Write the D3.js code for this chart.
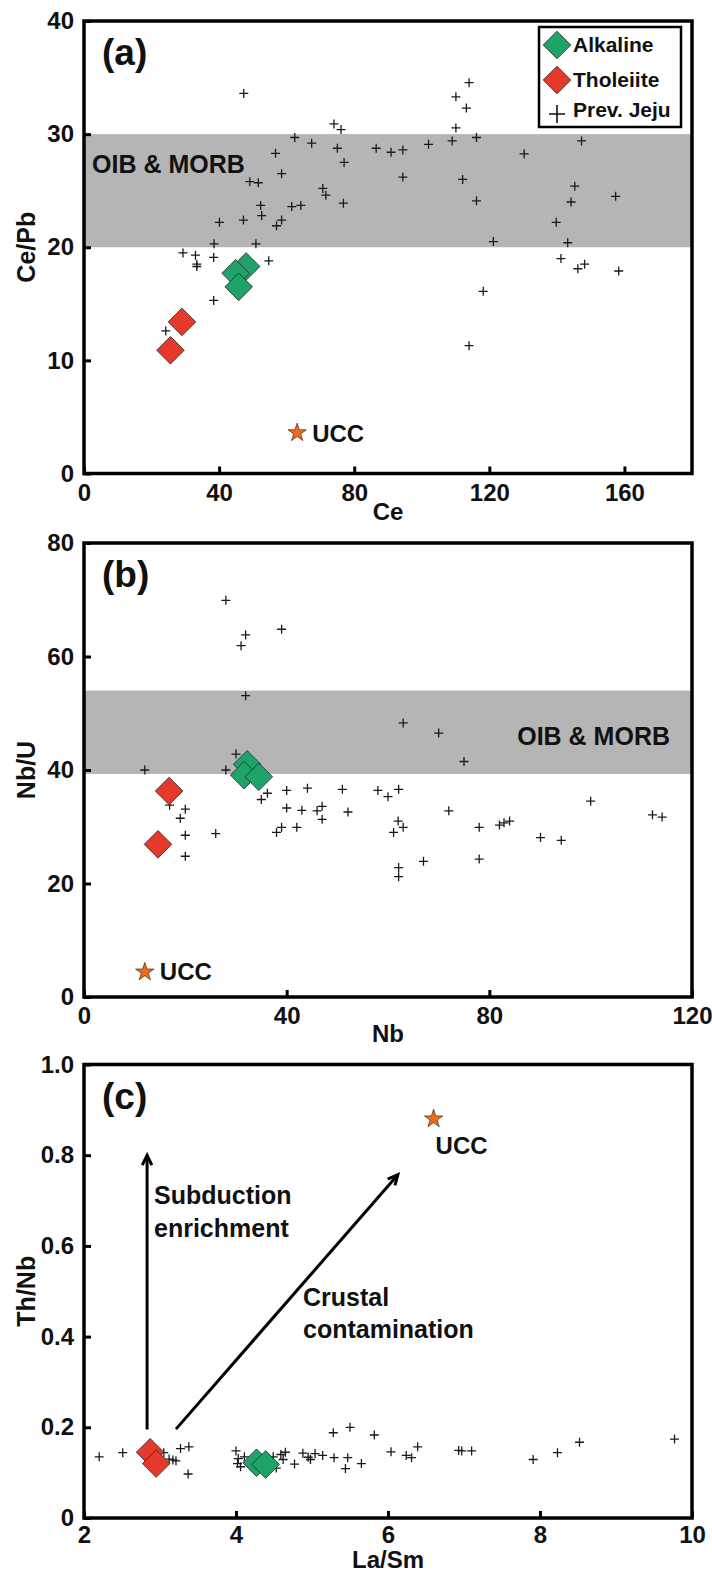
<!DOCTYPE html>
<html>
<head>
<meta charset="utf-8">
<script src="https://cdn.jsdelivr.net/npm/d3@7"></script>
<style>
  html, body { margin: 0; padding: 0; background: #fff; }
  svg { display: block; }
  text { font-family: "Liberation Sans", Arial, sans-serif; font-weight: bold; fill: #111; }
</style>
</head>
<body>
<svg id="chart" width="712" height="1573"></svg>
<script>
// ---------------- DATA ----------------
// Panel (a): Ce vs Ce/Pb
const prevCe   = [47.3,114,110.1,113.2,110.1,74.0,76.1,62.4,67.4,75.0,86.5,90.9,94.4,102.0,109.0,116.2,147.3,56.7,130.3,77.0,58.5,49.1,51.6,94.4,112.1,145.3,157.4,70.7,71.6,52.3,61.5,64.2,76.8,116.2,144.2,52.6,58.5,57.0,47.2,40.1,139.8,38.5,50.9,121.2,143.2,29.3,33.0,33.4,33.4,38.4,54.7,38.4,24.2,141.2,146.2,148.2,158.3,118.2,114.0];
const prevCePb = [33.6,34.55,33.3,32.3,30.55,30.9,30.4,29.7,29.2,28.75,28.75,28.4,28.6,29.1,29.4,29.7,29.4,28.3,28.25,27.5,26.5,25.8,25.7,26.2,26.0,25.4,24.5,25.2,24.6,23.7,23.6,23.7,23.9,24.1,24.0,22.8,22.4,21.9,22.4,22.2,22.2,20.3,20.3,20.5,20.4,19.5,19.3,18.5,18.3,19.1,18.8,15.3,12.6,19.0,18.1,18.5,17.9,16.1,11.3];
const alkCe    = [48.0, 44.9, 45.8];
const alkCePb  = [18.3, 17.7, 16.5];
const thoCe    = [29.0, 25.6];
const thoCePb  = [13.4, 10.9];
const uccCe = 63.1, uccCePb = 3.6;
const bandCePb = [20, 30];
const ticksCe = [0, 40, 80, 120, 160];
const ticksCePb = [0, 10, 20, 30, 40];

// Panel (b): Nb vs Nb/U
const prevNb  = [28.0,39.0,31.9,31.0,31.9,63.0,70.0,75.0,30.0,12.0,28.0,16.9,20.0,19.0,20.0,20.0,26.0,35.0,36.2,38.0,39.0,40.0,40.0,42.0,43.0,44.1,46.0,47.0,47.0,51.0,52.1,58.0,60.0,62.1,62.0,63.0,61.1,62.1,62.1,67.0,72.0,78.0,78.0,82.0,82.9,84.0,90.1,94.2,100.0,112.2,114.1];
const prevNbU = [69.9,64.8,63.8,61.9,53.1,48.3,46.5,41.5,42.8,40.0,40.0,33.8,33.1,31.5,28.5,24.8,28.8,34.8,35.9,29.0,29.9,36.4,33.3,29.9,32.9,36.8,32.8,33.6,31.3,36.6,32.6,36.4,35.3,36.6,31.0,29.9,29.0,22.8,21.2,23.9,32.8,29.9,24.3,30.3,30.7,31.0,28.1,27.6,34.5,32.1,31.7];
const alkNb   = [32.2, 31.6, 34.5];
const alkNbU  = [41.0, 39.1, 38.8];
const thoNb   = [16.8, 14.6];
const thoNbU  = [36.3, 26.9];
const uccNb = 12, uccNbU = 4.4;
const bandNbU = [39.3, 54];
const ticksNb = [0, 40, 80, 120];
const ticksNbU = [0, 20, 40, 60, 80];

// Panel (c): La/Sm vs Th/Nb
const prevLaSm = [2.20,2.51,3.05,3.27,3.38,3.37,3.12,3.17,3.21,4.00,4.03,4.02,4.06,4.11,4.20,4.49,4.53,4.59,4.65,4.62,4.77,4.88,4.95,4.98,5.04,5.14,5.28,5.29,5.44,5.47,5.50,5.65,5.82,6.04,6.24,6.31,6.39,6.93,6.97,7.10,7.91,8.23,8.52,9.77];
const prevThNb = [0.135,0.144,0.144,0.153,0.157,0.097,0.130,0.128,0.126,0.148,0.131,0.120,0.113,0.135,0.128,0.135,0.110,0.140,0.145,0.129,0.119,0.143,0.134,0.129,0.142,0.138,0.188,0.133,0.109,0.133,0.200,0.120,0.183,0.146,0.138,0.133,0.157,0.149,0.148,0.148,0.129,0.144,0.167,0.174];
const alkLaSm = [4.27, 4.39];
const alkThNb = [0.122, 0.118];
const thoLaSm = [2.87, 2.95];
const thoThNb = [0.145, 0.120];
const uccLaSm = 6.6, uccThNb = 0.88;
const arrowSubduction = [[2.83, 0.195], [2.83, 0.80]];
const arrowCrustal    = [[3.21, 0.196], [6.13, 0.757]];
const ticksLaSm = [2, 4, 6, 8, 10];
const ticksThNb = [0, 0.2, 0.4, 0.6, 0.8, 1.0];

// ---------------- STYLE ----------------
const GREEN = "#1FA36A", RED = "#E5392B", ORANGE = "#EE6A1F", BAND = "#B4B5B4";
const svg = d3.select("#chart");
const diamond = d3.symbol(d3.symbolSquare, 380)();
const star = d3.symbol(d3.symbolStar, 105)();
const plus = "M-4.5,0H4.5M0,-4.5V4.5";

function panel(cfg) {
  const x = d3.scaleLinear().domain(cfg.xDomain).range([84, 692]);
  const y = d3.scaleLinear().domain(cfg.yDomain).range([cfg.bottom, cfg.top]);
  const g = svg.append("g");

  if (cfg.band) {
    g.append("rect")
      .attr("x", x(cfg.xDomain[0])).attr("width", x(cfg.xDomain[1]) - x(cfg.xDomain[0]))
      .attr("y", y(cfg.band[1])).attr("height", y(cfg.band[0]) - y(cfg.band[1]))
      .attr("fill", BAND);
  }

  const ax = g.append("g").attr("transform", `translate(0,${cfg.bottom})`)
    .call(d3.axisBottom(x).tickValues(cfg.xTicks).tickSizeInner(-7).tickSizeOuter(0).tickPadding(cfg.xPad).tickFormat(cfg.xFmt || d3.format("d")));
  const ay = g.append("g").attr("transform", `translate(84,0)`)
    .call(d3.axisLeft(y).tickValues(cfg.yTicks).tickSizeInner(-7).tickSizeOuter(0).tickPadding(10).tickFormat(cfg.yFmt || d3.format("d")));
  [ax, ay].forEach(a => {
    a.select(".domain").remove();
    a.selectAll(".tick line").attr("stroke", "#000").attr("stroke-width", 3);
    a.selectAll(".tick text").attr("font-size", 24).attr("font-family", '"Liberation Sans", Arial, sans-serif').attr("font-weight", "bold").attr("fill", "#111");
  });

  // frame
  g.append("rect").attr("x", 84).attr("y", cfg.top).attr("width", 608).attr("height", cfg.bottom - cfg.top)
    .attr("fill", "none").attr("stroke", "#000").attr("stroke-width", 3.5);

  // axis titles
  g.append("text").attr("x", 388).attr("y", cfg.bottom + cfg.xTitleOff).attr("text-anchor", "middle")
    .attr("font-size", 24).text(cfg.xTitle);
  g.append("text").attr("transform", `translate(35,${(cfg.top + cfg.bottom) / 2}) rotate(-90)`)
    .attr("text-anchor", "middle").attr("font-size", 25).text(cfg.yTitle);

  // panel label
  g.append("text").attr("x", 102).attr("y", cfg.top + 44).attr("font-size", 37).text(cfg.label);

  return {x, y, g};
}

function drawPlus(p, xs, ys) {
  p.g.append("g").selectAll("path").data(d3.range(xs.length)).join("path")
    .attr("d", plus).attr("transform", i => `translate(${p.x(xs[i])},${p.y(ys[i])})`)
    .attr("stroke", "#1a1a1a").attr("stroke-width", 1.3).attr("fill", "none");
}
function drawDiamonds(p, xs, ys, color) {
  p.g.append("g").selectAll("path").data(d3.range(xs.length)).join("path")
    .attr("d", diamond).attr("transform", i => `translate(${p.x(xs[i])},${p.y(ys[i])}) rotate(45)`)
    .attr("fill", color).attr("stroke", "#2a2a2a").attr("stroke-width", 0.8);
}
function drawStar(p, xv, yv) {
  p.g.append("path").attr("d", star).attr("transform", `translate(${p.x(xv)},${p.y(yv)})`)
    .attr("fill", ORANGE).attr("stroke", "#4a2a10").attr("stroke-width", 0.7);
}

// ---------------- PANEL A ----------------
const A = panel({xDomain: [0, 180], yDomain: [0, 40], top: 21, bottom: 473.5,
  xTicks: ticksCe, yTicks: ticksCePb, band: bandCePb, xPad: 10, xTitleOff: 46,
  xTitle: "Ce", yTitle: "Ce/Pb", label: "(a)"});
A.g.append("text").attr("x", 92).attr("y", 173).attr("font-size", 25).text("OIB & MORB");
drawPlus(A, prevCe, prevCePb);
drawDiamonds(A, thoCe, thoCePb, RED);
drawDiamonds(A, alkCe, alkCePb, GREEN);
drawStar(A, uccCe, uccCePb);
A.g.append("text").attr("x", A.x(uccCe) + 15).attr("y", A.y(uccCePb) + 9).attr("font-size", 24).text("UCC");

// legend
const L = A.g.append("g");
L.append("rect").attr("x", 539).attr("y", 27).attr("width", 142).attr("height", 100)
  .attr("fill", "#fff").attr("stroke", "#000").attr("stroke-width", 2.5);
L.append("path").attr("d", diamond).attr("transform", "translate(557,45) rotate(45)").attr("fill", GREEN).attr("stroke", "#2a2a2a").attr("stroke-width", 0.8);
L.append("path").attr("d", diamond).attr("transform", "translate(557,80) rotate(45)").attr("fill", RED).attr("stroke", "#2a2a2a").attr("stroke-width", 0.8);
L.append("path").attr("d", "M-8,0H8M0,-9V9").attr("transform", "translate(557,114)").attr("stroke", "#111").attr("stroke-width", 1.6);
[["Alkaline", 52], ["Tholeiite", 87], ["Prev. Jeju", 117]].forEach(([t, yy]) =>
  L.append("text").attr("x", 573).attr("y", yy).attr("font-size", 21).text(t));

// ---------------- PANEL B ----------------
const B = panel({xDomain: [0, 120], yDomain: [0, 80], top: 543, bottom: 997,
  xTicks: ticksNb, yTicks: ticksNbU, band: bandNbU, xPad: 10, xTitleOff: 45,
  xTitle: "Nb", yTitle: "Nb/U", label: "(b)"});
B.g.append("text").attr("x", 670).attr("y", 745).attr("text-anchor", "end").attr("font-size", 25).text("OIB & MORB");
drawPlus(B, prevNb, prevNbU);
drawDiamonds(B, thoNb, thoNbU, RED);
drawDiamonds(B, alkNb, alkNbU, GREEN);
drawStar(B, uccNb, uccNbU);
B.g.append("text").attr("x", B.x(uccNb) + 15).attr("y", B.y(uccNbU) + 8).attr("font-size", 24).text("UCC");

// ---------------- PANEL C ----------------
const C = panel({xDomain: [2, 10], yDomain: [0, 1], top: 1064.5, bottom: 1518,
  xTicks: ticksLaSm, yTicks: ticksThNb, xPad: 8, xTitleOff: 50,
  xFmt: d3.format("d"), yFmt: v => v === 0 ? "0" : d3.format(".1f")(v),
  xTitle: "La/Sm", yTitle: "Th/Nb", label: "(c)"});

function arrow(p, pts) {
  const [x0, y0] = [p.x(pts[0][0]), p.y(pts[0][1])];
  const [x1, y1] = [p.x(pts[1][0]), p.y(pts[1][1])];
  p.g.append("line").attr("x1", x0).attr("y1", y0).attr("x2", x1).attr("y2", y1)
    .attr("stroke", "#000").attr("stroke-width", 3);
  const ang = Math.atan2(y1 - y0, x1 - x0);
  const len = 11, spread = 0.45;
  const a1 = ang + Math.PI - spread, a2 = ang + Math.PI + spread;
  p.g.append("path")
    .attr("d", `M${x1 + len * Math.cos(a1)},${y1 + len * Math.sin(a1)}L${x1},${y1}L${x1 + len * Math.cos(a2)},${y1 + len * Math.sin(a2)}`)
    .attr("fill", "none").attr("stroke", "#000").attr("stroke-width", 3).attr("stroke-linejoin", "miter");
}
arrow(C, arrowSubduction);
arrow(C, arrowCrustal);
C.g.append("text").attr("x", 154).attr("y", 1204).attr("font-size", 25).text("Subduction");
C.g.append("text").attr("x", 154).attr("y", 1237).attr("font-size", 25).text("enrichment");
C.g.append("text").attr("x", 303).attr("y", 1306).attr("font-size", 25).text("Crustal");
C.g.append("text").attr("x", 303).attr("y", 1338).attr("font-size", 25).text("contamination");

drawPlus(C, prevLaSm, prevThNb);
drawDiamonds(C, thoLaSm, thoThNb, RED);
drawDiamonds(C, alkLaSm, alkThNb, GREEN);
drawStar(C, uccLaSm, uccThNb);
C.g.append("text").attr("x", C.x(uccLaSm) + 2).attr("y", C.y(uccThNb) + 35).attr("font-size", 24).text("UCC");
</script>
</body>
</html>
